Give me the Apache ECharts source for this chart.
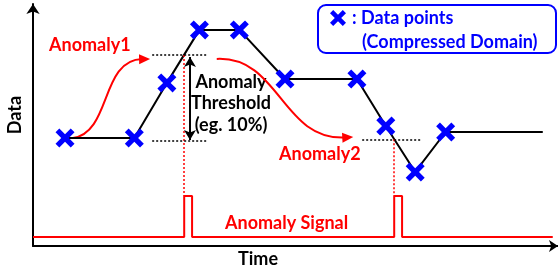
<!DOCTYPE html>
<html>
<head>
<meta charset="utf-8">
<script src="https://cdn.jsdelivr.net/npm/echarts@6/dist/echarts.min.js"></script>
<style>
  html, body { margin: 0; padding: 0; background: #fff; }
  #chart { width: 558px; height: 271px; }
</style>
</head>
<body>
<div id="chart"></div>
<script>
// data points (compressed domain); last entry is the tail of the line, no marker
const timeValues = [6.1, 19.3, 25.5, 31.7, 39.3, 48.0, 61.7, 67.2, 72.8, 78.6, 97.1]
const dataValues = [44.6, 44.6, 67.4, 89.3, 89.3, 69.0, 69.0, 49.6, 30.6, 47.1, 47.1]
const markedCount = 10

// anomaly signal (pulse train)
const signalTimes = [0, 28.8, 28.8, 30.3, 30.3, 68.8, 68.8, 70.3, 70.3, 99.0]
const signalValues = [3.7, 3.7, 20.7, 20.7, 3.7, 3.7, 20.7, 20.7, 3.7, 3.7]

// threshold guides: [xStart, xEnd, y]
const thresholdLines = [[22.7, 33.3, 78.9], [22.7, 33.3, 43.4], [62.7, 73.9, 44.1]]
// red dotted drops to the signal: [x, yTop, yBottom]
const dropLines = [[28.8, 78.9, 20.7], [68.8, 44.1, 20.7]]
// threshold span arrow: [x, yTop, yBottom]
const spanArrow = [29.9, 78.1, 43.8]
// curved anomaly arrows: [x0, y0, cx1, cy1, cx2, cy2, x1, y1]
const anomalyArrows = [
  [7.6, 44.6, 15.0, 47.1, 12.8, 76.9, 22.3, 77.3],
  [35.0, 77.3, 47.0, 78.5, 47.4, 43.4, 61.0, 45.0]
]

const BLUE = '#0000ff'
const RED = '#ff0000'
const FONT = 'Lato'
const X_PATH = 'path://M4,0 L10,6 L16,0 L20,4 L14,10 L20,16 L16,20 L10,14 L4,20 L0,16 L6,10 L0,4 Z'
const X_PTS = [[4, 0], [10, 6], [16, 0], [20, 4], [14, 10], [20, 16], [16, 20], [10, 14], [4, 20], [0, 16], [6, 10], [0, 4]]

const chart = echarts.init(document.getElementById('chart'))

function text(str, x, y, opts) {
  return Object.assign({
    type: 'text',
    x: x,
    y: y,
    silent: true,
    style: Object.assign({
      text: str,
      font: 'bold 18px ' + FONT,
      fill: '#000',
      textAlign: 'left',
      textVerticalAlign: 'middle'
    }, opts && opts.style)
  }, opts && opts.el)
}

function renderArrow(params, api) {
  const p = [0, 1, 2, 3].map((i) => api.coord([api.value(2 * i), api.value(2 * i + 1)]))
  const ang = Math.atan2(p[3][1] - p[2][1], p[3][0] - p[2][0])
  const len = 11
  const half = 5
  const dx = Math.cos(ang)
  const dy = Math.sin(ang)
  const bx = p[3][0] - dx * len
  const by = p[3][1] - dy * len
  return {
    type: 'group',
    children: [
      {
        type: 'bezierCurve',
        shape: {
          x1: p[0][0], y1: p[0][1],
          cpx1: p[1][0], cpy1: p[1][1],
          cpx2: p[2][0], cpy2: p[2][1],
          x2: p[3][0] - dx * len * 0.7, y2: p[3][1] - dy * len * 0.7
        },
        style: { stroke: RED, lineWidth: 2, fill: 'none' }
      },
      {
        type: 'polygon',
        shape: {
          points: [
            [p[3][0], p[3][1]],
            [bx - dy * half, by + dx * half],
            [bx + dy * half, by - dx * half]
          ]
        },
        style: { fill: RED }
      }
    ]
  }
}

const dotted = [2, 2]

chart.setOption({
  animation: false,
  grid: { left: 33, right: 0, top: 4, bottom: 25 },
  xAxis: {
    type: 'value',
    min: 0,
    max: 100,
    axisLine: {
      lineStyle: { color: '#000', width: 2 },
      symbol: ['none', 'arrow'],
      symbolSize: [9, 9]
    },
    axisTick: { show: false },
    axisLabel: { show: false },
    splitLine: { show: false }
  },
  yAxis: {
    type: 'value',
    min: 0,
    max: 100,
    axisLine: {
      show: true,
      lineStyle: { color: '#000', width: 2 },
      symbol: ['none', 'arrow'],
      symbolSize: [10, 10]
    },
    axisTick: { show: false },
    axisLabel: { show: false },
    splitLine: { show: false }
  },
  series: [
    {
      name: 'Anomaly Signal',
      type: 'line',
      data: signalTimes.map((t, i) => [t, signalValues[i]]),
      symbol: 'none',
      lineStyle: { color: RED, width: 2 },
      z: 1,
      markLine: {
        silent: true,
        symbol: 'none',
        label: { show: false },
        lineStyle: { color: RED, width: 1.5, type: dotted },
        data: dropLines.map((d) => [{ coord: [d[0], d[1]] }, { coord: [d[0], d[2]] }])
      }
    },
    {
      name: 'Thresholds',
      type: 'line',
      data: [],
      markLine: {
        silent: true,
        symbol: 'none',
        label: { show: false },
        lineStyle: { color: '#000', width: 1.5, type: dotted },
        data: thresholdLines.map((d) => [{ coord: [d[0], d[2]] }, { coord: [d[1], d[2]] }])
      }
    },
    {
      name: 'Span',
      type: 'line',
      data: [],
      markLine: {
        silent: true,
        symbol: ['arrow', 'arrow'],
        symbolSize: [9, 10],
        label: { show: false },
        lineStyle: { color: '#000', width: 2, type: 'solid' },
        data: [[{ coord: [spanArrow[0], spanArrow[2]] }, { coord: [spanArrow[0], spanArrow[1]] }]]
      }
    },
    {
      name: 'Data points',
      type: 'line',
      data: timeValues.map((t, i) => ({
        value: [t, dataValues[i]],
        symbol: i < markedCount ? X_PATH : 'none'
      })),
      symbolSize: 19,
      showAllSymbol: true,
      itemStyle: { color: BLUE },
      lineStyle: { color: '#000', width: 2 },
      z: 3
    },
    {
      name: 'Anomaly arrows',
      type: 'custom',
      renderItem: renderArrow,
      data: anomalyArrows,
      encode: { x: [0, 2, 4, 6], y: [1, 3, 5, 7] },
      silent: true,
      z: 2
    }
  ],
  graphic: [
    text('Data', 15, 115, { el: { rotation: Math.PI / 2 }, style: { textAlign: 'center' } }),
    text('Time', 258, 259, { style: { textAlign: 'center' } }),
    text('Anomaly1', 49, 45, { style: { fill: RED } }),
    text('Anomaly2', 279, 154, { style: { fill: RED } }),
    text('Anomaly Signal', 225, 223, { style: { fill: RED } }),
    text('Anomaly', 231, 82, { style: { textAlign: 'center' } }),
    text('Threshold', 231, 103, { style: { textAlign: 'center' } }),
    text('(eg. 10%)', 231, 125, { style: { textAlign: 'center' } }),
    // key box
    {
      type: 'rect',
      silent: true,
      shape: { x: 318, y: 5, width: 238, height: 48, r: 8 },
      style: { fill: '#fff', stroke: BLUE, lineWidth: 2 }
    },
    {
      type: 'polygon',
      silent: true,
      x: 330,
      y: 10,
      scaleX: 0.8,
      scaleY: 0.8,
      shape: { points: X_PTS },
      style: { fill: BLUE }
    },
    text(': Data points', 352, 18, { style: { fill: BLUE } }),
    text('(Compressed Domain)', 362, 42, { style: { fill: BLUE } })
  ]
})
</script>
</body>
</html>
